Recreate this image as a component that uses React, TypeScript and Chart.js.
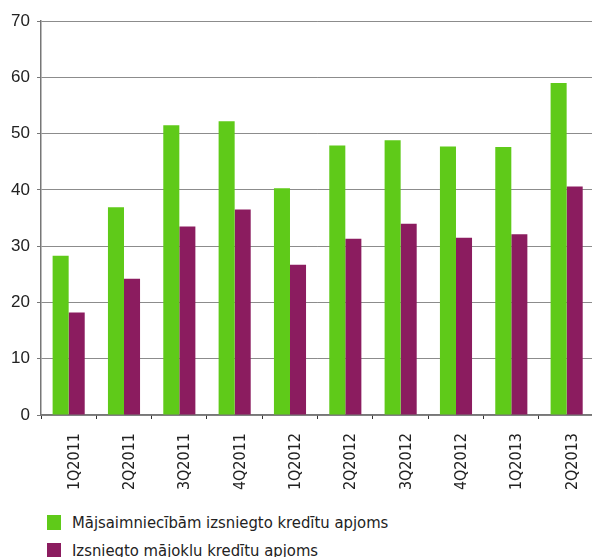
import React, { useEffect, useRef } from "react";
import { Chart, registerables } from "chart.js";

Chart.register(...registerables);

const categories = ["1Q2011", "2Q2011", "3Q2011", "4Q2011", "1Q2012", "2Q2012", "3Q2012", "4Q2012", "1Q2013", "2Q2013"];
const householdLoans = [28.3, 36.9, 51.5, 52.2, 40.3, 47.9, 48.8, 47.7, 47.6, 59.0];
const housingLoans = [18.2, 24.2, 33.5, 36.5, 26.7, 31.3, 34.0, 31.5, 32.1, 40.6];
const seriesNames = ["Mājsaimniecībām izsniegto kredītu apjoms", "Izsniegto mājokļu kredītu apjoms"];
const yTicks = [0, 10, 20, 30, 40, 50, 60, 70];

const GREEN = "#5fca19";
const PURPLE = "#8b1c5f";
const CONDENSED = "'Liberation Sans Narrow', 'DejaVu Sans Condensed', 'Arial Narrow', sans-serif";

export default function App() {
  const ref = useRef<HTMLCanvasElement | null>(null);

  useEffect(() => {
    if (!ref.current) return;
    const chart = new Chart(ref.current, {
      type: "bar",
      data: {
        labels: categories,
        datasets: [
          { label: seriesNames[0], data: householdLoans, backgroundColor: GREEN, borderWidth: 0, categoryPercentage: 0.58, barPercentage: 1 },
          { label: seriesNames[1], data: housingLoans, backgroundColor: PURPLE, borderWidth: 0, categoryPercentage: 0.58, barPercentage: 1 },
        ],
      },
      options: {
        animation: false,
        responsive: false,
        maintainAspectRatio: false,
        layout: { padding: { top: 21, right: 3, bottom: 0, left: 0 } },
        plugins: { legend: { display: false }, tooltip: { enabled: false } },
        scales: {
          y: {
            min: 0,
            max: 70,
            afterFit: (s: any) => { s.width = 41; },
            afterBuildTicks: (s: any) => { s.ticks = yTicks.map((v) => ({ value: v })); },
            ticks: { padding: 7, color: "#222", font: { family: "'Liberation Sans', Arial, sans-serif", size: 17 } },
            grid: { color: "#8c8c8c", lineWidth: 1, drawTicks: true, tickLength: 4, tickColor: "#777" },
            border: { color: "#777", width: 1.5 },
          },
          x: {
            afterFit: (s: any) => { s.height = 80; },
            ticks: {
              minRotation: 90,
              maxRotation: 90,
              padding: 14,
              labelOffset: 6,
              color: "#222",
              font: { family: CONDENSED, size: 16 },
            },
            grid: { drawOnChartArea: false, drawTicks: true, tickLength: 4, tickColor: "#333", offset: true },
            border: { color: "#777", width: 1.5 },
          },
        },
      },
    });
    return () => chart.destroy();
  }, []);

  return (
    <div style={{ position: "absolute", left: 0, top: 0, width: 592, height: 557, overflow: "hidden", background: "#fff" }}>
      <canvas ref={ref} width={600} height={495} style={{ display: "block", width: 600, height: 495 }} />
      {seriesNames.map((name, i) => (
        <div
          key={name}
          style={{
            position: "absolute",
            left: 47,
            top: 515 + i * 28,
            height: 15,
            display: "flex",
            alignItems: "center",
            fontFamily: CONDENSED,
            fontSize: 16.5,
            color: "#222",
            whiteSpace: "nowrap",
          }}
        >
          <span style={{ display: "inline-block", width: 14, height: 15, background: i === 0 ? GREEN : PURPLE, marginRight: 11 }} />
          <span>{name}</span>
        </div>
      ))}
    </div>
  );
}
